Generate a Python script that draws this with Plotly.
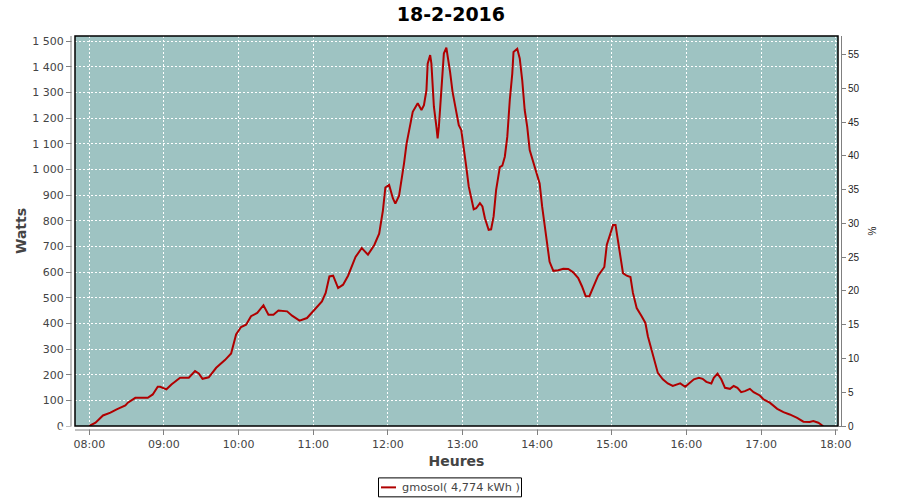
import plotly.graph_objects as go

DAY = "2016-02-18"
times = ["08:00","08:05","08:11","08:17","08:22","08:29","08:31","08:37","08:41","08:47",
         "08:51","08:55","08:57","09:02","09:06","09:13","09:20","09:25","09:28","09:31",
         "09:36","09:42","09:49","09:54","09:58","10:02","10:06","10:10","10:15","10:20",
         "10:24","10:28","10:32","10:39","10:43","10:49","10:55","11:00","11:07","11:10",
         "11:13","11:16","11:20","11:24","11:28","11:34","11:39","11:44","11:49","11:53",
         "11:56","11:58","12:01","12:04","12:06","12:09","12:11","12:13","12:15","12:18",
         "12:20","12:24","12:27","12:29","12:31","12:32","12:34","12:35","12:37","12:39",
         "12:40","12:41","12:42","12:44","12:45","12:47","12:48","12:50","12:52","12:55",
         "12:57","12:59","13:01","13:03","13:05","13:07","13:09","13:11","13:14","13:16",
         "13:18","13:21","13:23","13:25","13:27","13:30","13:32","13:34","13:36","13:38",
         "13:40","13:41","13:44","13:46","13:48","13:50","13:52","13:54","13:56","14:00",
         "14:02","14:04","14:06","14:08","14:10","14:13","14:17","14:21","14:25","14:29",
         "14:33","14:36","14:39","14:42","14:45","14:49","14:54","14:56","14:59","15:01",
         "15:03","15:05","15:07","15:09","15:12","15:15","15:17","15:20","15:24","15:27",
         "15:29","15:32","15:35","15:37","15:41","15:45","15:49","15:52","15:55","15:59",
         "16:02","16:06","16:10","16:13","16:16","16:20","16:22","16:25","16:28","16:31",
         "16:35","16:38","16:41","16:44","16:47","16:51","16:54","16:59","17:02","17:07",
         "17:13","17:18","17:23","17:29","17:34","17:39","17:42","17:46","17:49","17:50"]
watts = [0,13,41,52,65,80,91,110,110,110,
         123,153,153,143,162,188,188,214,205,184,
         190,227,257,283,357,386,395,428,441,471,
         434,434,450,447,430,411,421,447,486,519,
         583,586,538,551,586,659,694,668,705,750,
         840,930,940,888,867,898,959,1024,1100,1173,
         1225,1258,1232,1251,1309,1413,1446,1413,1245,1167,
         1121,1167,1232,1400,1452,1475,1446,1381,1303,1225,
         1173,1154,1089,1011,934,882,845,849,869,856,
         810,765,767,817,920,1009,1015,1050,1128,1271,
         1374,1458,1471,1433,1348,1232,1167,1076,1044,985,
         946,856,778,700,640,605,607,613,612,599,
         577,545,506,506,538,586,620,707,752,784,
         784,720,655,596,586,581,519,460,428,402,
         350,298,246,207,182,166,156,162,166,153,
         166,182,188,184,172,166,188,204,182,149,
         145,156,149,132,136,145,132,119,104,91,
         67,54,45,32,17,16,19,13,3,0]

series_name = "gmosol( 4,774 kWh )"
title_text = "18-2-2016"
hour_ticks = ["08:00","09:00","10:00","11:00","12:00","13:00","14:00","15:00","16:00","17:00","18:00"]
watt_ticks = [0,100,200,300,400,500,600,700,800,900,1000,1100,1200,1300,1400,1500]
watt_labels = ["0","100","200","300","400","500","600","700","800","900",
               "1 000","1 100","1 200","1 300","1 400","1 500"]
pct_ticks = [0,5,10,15,20,25,30,35,40,45,50,55]

x = [f"{DAY} {t}" for t in times]
LINE_COLOR = "#b00000"

fig = go.Figure()
fig.add_trace(go.Scatter(x=x, y=watts, mode="lines", name=series_name, showlegend=False,
                         line=dict(color=LINE_COLOR, width=2)))
fig.add_trace(go.Scatter(x=[x[0]], y=[0], yaxis="y2", mode="lines",
                         showlegend=False, hoverinfo="skip",
                         line=dict(color="rgba(0,0,0,0)")))

GRAY = "#808080"
# plot area in pixels: x 75..838, y 35.7..426.5
PL, PR, PT, PB = 75, 838, 35.7, 426.5
W_, H_ = PR - PL, PB - PT
def px(X):
    return (X - PL) / W_
def py(Y):
    return (PB - Y) / H_

fig.update_layout(
    width=900, height=500,
    margin=dict(l=PL, r=900 - PR, t=PT, b=500 - PB, autoexpand=False),
    paper_bgcolor="white", plot_bgcolor="#9ec3c2",
    title=dict(text="<b>" + title_text + "</b>", x=0.501, xanchor="center",
               yref="container", y=0.971, yanchor="middle",
               font=dict(family="DejaVu Sans", size=19, color="black")),
    font=dict(family="DejaVu Sans", size=11, color="#444444"),
    xaxis=dict(type="date", automargin=False,
               range=[f"{DAY} 07:48:30", f"{DAY} 18:01:50"],
               tickvals=[f"{DAY} {t}" for t in hour_ticks], ticktext=hour_ticks,
               showgrid=True, gridcolor="white", griddash="2px,2px", gridwidth=1,
               zeroline=False, showline=False,
               ticks="outside", ticklen=8, tickcolor=GRAY,
               tickfont=dict(family="DejaVu Sans", size=11, color="#444444"),
               title=dict(text="<b>Heures</b>", standoff=5,
                          font=dict(family="DejaVu Sans", size=14, color="#444444"))),
    yaxis=dict(range=[0, 1520.6], tickvals=watt_ticks, ticktext=watt_labels, automargin=False,
               showgrid=True, gridcolor="white", griddash="2px,2px", gridwidth=1,
               zeroline=False, showline=False,
               ticks="outside", ticklen=8, tickcolor=GRAY,
               tickfont=dict(family="DejaVu Sans", size=11, color="#444444"),
               title=dict(text="<b>Watts</b>", standoff=2,
                          font=dict(family="DejaVu Sans", size=14, color="#444444"))),
    yaxis2=dict(range=[0, 57.75], overlaying="y", side="right", tickvals=pct_ticks, automargin=False,
                showgrid=False, zeroline=False, showline=False,
                ticks="outside", ticklen=7, tickcolor=GRAY,
                tickfont=dict(family="Liberation Sans", size=10, color="#222222"),
                title=dict(text="%", standoff=10,
                           font=dict(family="Liberation Sans", size=10, color="#222222"))),
    showlegend=False,
)

shapes = []
# white gaps between plot border and offset axis lines (hide tick start)
shapes.append(dict(type="rect", xref="paper", yref="paper", xsizemode="pixel", xanchor=0,
                   x0=-0.5, x1=-3.5, y0=-0.01, y1=1, fillcolor="white", line=dict(width=0), layer="above"))
shapes.append(dict(type="rect", xref="paper", yref="paper", ysizemode="pixel", yanchor=0,
                   y0=-0.5, y1=-3.5, x0=-0.02, x1=1.0, fillcolor="white", line=dict(width=0), layer="above"))
shapes.append(dict(type="rect", xref="paper", yref="paper", xsizemode="pixel", xanchor=1,
                   x0=0.5, x1=3.0, y0=0, y1=1, fillcolor="white", line=dict(width=0), layer="above"))
# offset axis lines
shapes.append(dict(type="line", xref="paper", yref="paper", xsizemode="pixel", xanchor=0,
                   x0=-4, x1=-4, y0=0, y1=1, line=dict(color=GRAY, width=1), layer="above"))
shapes.append(dict(type="line", xref="paper", yref="paper", ysizemode="pixel", yanchor=0,
                   y0=-4, y1=-4, x0=0, x1=1, line=dict(color=GRAY, width=1), layer="above"))
shapes.append(dict(type="line", xref="paper", yref="paper", xsizemode="pixel", xanchor=1,
                   x0=3.5, x1=3.5, y0=0, y1=1, line=dict(color=GRAY, width=1), layer="above"))
# plot border
shapes.append(dict(type="rect", xref="paper", yref="paper", x0=0, x1=1, y0=0, y1=1,
                   line=dict(color="black", width=1.5), layer="above"))
# legend box and line sample
shapes.append(dict(type="rect", xref="paper", yref="paper", x0=px(378.5), x1=px(521.5),
                   y0=py(497.5), y1=py(478.5), fillcolor="white",
                   line=dict(color="black", width=1), layer="above"))
shapes.append(dict(type="line", xref="paper", yref="paper", x0=px(381), x1=px(396),
                   y0=py(488), y1=py(488), line=dict(color=LINE_COLOR, width=2), layer="above"))
fig.update_layout(shapes=shapes)

fig.add_annotation(text=series_name, xref="paper", yref="paper", x=px(399.5), y=py(488.5),
                   xanchor="left", yanchor="middle", showarrow=False,
                   font=dict(family="DejaVu Sans", size=11.3, color="#444444"))

fig.write_html("out.html", config={"displayModeBar": False},
               post_script="document.body.style.margin='0px';document.body.style.padding='0px';")
